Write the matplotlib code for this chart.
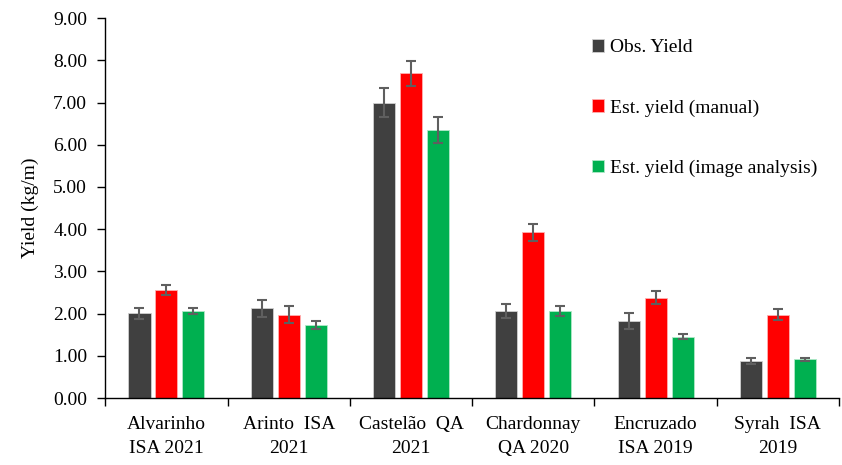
import matplotlib.pyplot as plt
import numpy as np

plt.rcParams['font.family'] = ['Liberation Serif', 'DejaVu Serif']

# 数据
categories = ['Alvarinho\nISA 2021', 'Arinto  ISA\n2021', 'Castelão  QA\n2021',
              'Chardonnay\nQA 2020', 'Encruzado\nISA 2019', 'Syrah  ISA\n2019']
obs_yield = [2.01, 2.13, 7.00, 2.06, 1.82, 0.88]
obs_err = [0.13, 0.20, 0.34, 0.16, 0.19, 0.07]
est_manual = [2.56, 1.97, 7.69, 3.93, 2.38, 1.97]
est_manual_err = [0.11, 0.20, 0.30, 0.20, 0.15, 0.13]
est_image = [2.06, 1.73, 6.35, 2.06, 1.45, 0.92]
est_image_err = [0.08, 0.10, 0.30, 0.11, 0.06, 0.04]

fig = plt.figure(figsize=(8.42, 4.65), dpi=100)
ax = fig.add_axes([0.125, 0.144, 0.8715, 0.817])

index = np.arange(len(categories))
width = 0.18
step = 0.22
err_kw = dict(ecolor='#5f5f5f', elinewidth=1.5, capsize=3.5, capthick=1.5)

ax.bar(index - step, obs_yield, width, yerr=obs_err, color='#404040',
       edgecolor='#d0d0d0', linewidth=0.6, label='Obs. Yield', error_kw=err_kw)
ax.bar(index, est_manual, width, yerr=est_manual_err, color='#ff0000',
       edgecolor='#ffb0b0', linewidth=0.6, label='Est. yield (manual)', error_kw=err_kw)
ax.bar(index + step, est_image, width, yerr=est_image_err, color='#00b050',
       edgecolor='#b0e8c8', linewidth=0.6, label='Est. yield (image analysis)', error_kw=err_kw)

ax.set_xlim(-0.5, len(categories) - 0.5)
ax.set_ylim(0, 9)
ax.set_yticks(np.arange(0, 9.01, 1))
ax.set_yticklabels(['%.2f' % v for v in np.arange(0, 9.01, 1)], fontsize=14)
ax.set_ylabel('Yield (kg/m)', fontsize=14, labelpad=10)

# 类别标签放在中间, 刻度线在分界处
ax.set_xticks(index)
ax.set_xticklabels(categories, fontsize=14, linespacing=1.55)
ax.tick_params(axis='x', which='major', length=0, pad=13)
ax.set_xticks(np.arange(-0.5, len(categories)), minor=True)
ax.tick_params(axis='x', which='minor', length=6, width=1, direction='out')
ax.tick_params(axis='y', length=6, width=1, direction='out', pad=7)

for s in ['top', 'right']:
    ax.spines[s].set_visible(False)
for s in ['left', 'bottom']:
    ax.spines[s].set_linewidth(1)

ax.legend(loc='upper left', bbox_to_anchor=(0.64, 0.99), frameon=False,
          fontsize=14, labelspacing=2.2, handlelength=0.6, handleheight=0.6,
          handletextpad=0.3)

plt.savefig('out.png', dpi=100)
